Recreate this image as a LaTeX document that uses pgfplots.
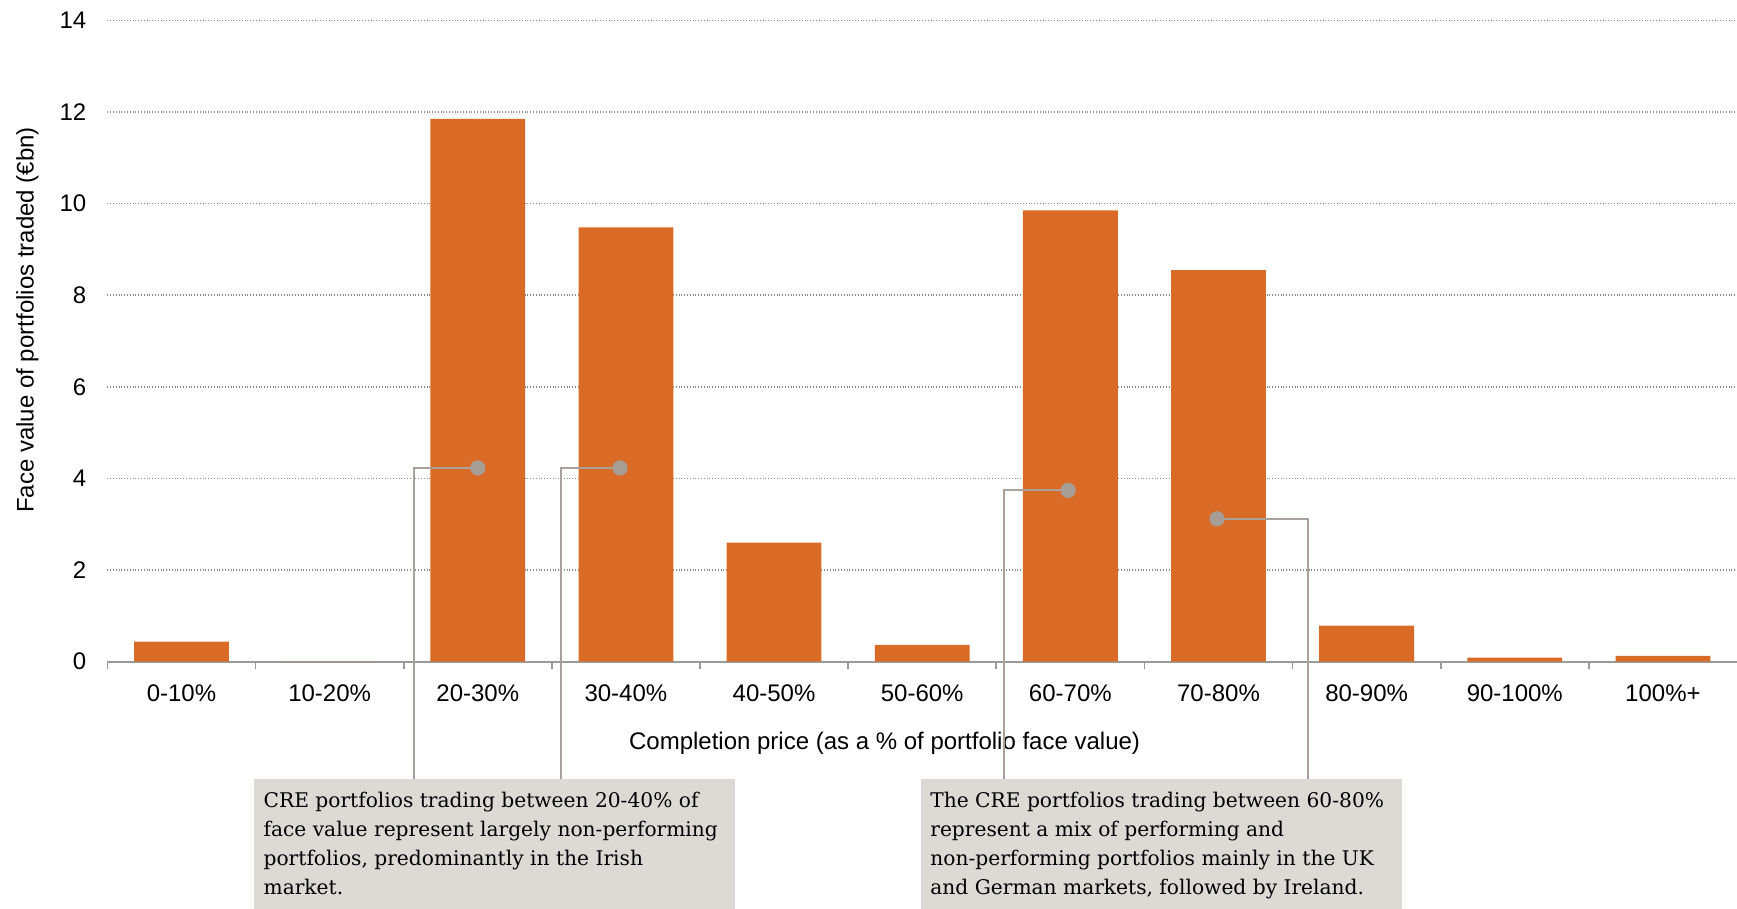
\documentclass[border=0pt]{standalone}
\usepackage{fontspec}
\setmainfont{Liberation Sans}
\newfontfamily\notefont{DejaVu Serif}
\usepackage{pgfplots}
\pgfplotsset{compat=1.18}
\definecolor{barc}{HTML}{DA6B27}
\definecolor{dotc}{HTML}{A69D96}
\definecolor{linec}{HTML}{A9A19B}
\definecolor{boxc}{HTML}{DDDAD6}
\definecolor{gridc}{HTML}{8A8A8A}
\definecolor{axisc}{HTML}{9A9A9A}
\begin{document}
\begin{tikzpicture}
\begin{axis}[
  scale only axis, width=814.8pt, height=320.7pt,
  xmin=-0.5, xmax=10.5, ymin=0, ymax=14,
  clip=false,
  axis lines*=left,
  y axis line style={draw=none},
  x axis line style={draw=axisc, line width=0.9pt},
  xtick={0,...,10},
  xticklabels={0-10\%,10-20\%,20-30\%,30-40\%,40-50\%,50-60\%,60-70\%,70-80\%,80-90\%,90-100\%,100\%+},
  minor xtick={-0.5,0.5,1.5,2.5,3.5,4.5,5.5,6.5,7.5,8.5,9.5},
  major x tick style={draw=none},
  minor x tick style={draw=axisc, line width=0.9pt},
  minor tick length=3.5pt,
  major tick length=0pt,
  tick align=outside,
  ytick={0,2,...,14},
  ytick style={draw=none},
  ymajorgrids, grid style={densely dotted, gridc, line width=0.8pt},
  tick label style={font=\fontsize{12}{14}\selectfont, text=black},
  xticklabel style={yshift=-8pt},
  yticklabel style={xshift=-7pt},
  /pgf/number format/assume math mode=true,
]
\addplot[ybar, bar width=0.64, fill=barc, draw=none] coordinates {
  (0,0.44) (1,0) (2,11.85) (3,9.48) (4,2.6) (5,0.37) (6,9.85) (7,8.55) (8,0.79) (9,0.09) (10,0.13)
};
% annotation boxes
\fill[boxc] (axis cs:0.4925,-2.56) rectangle (axis cs:3.739,-5.6);
\fill[boxc] (axis cs:4.993,-2.56) rectangle (axis cs:8.239,-5.6);
\node[anchor=north west, align=left, inner sep=0pt, xshift=4.4pt, yshift=-6.6pt,
  font=\notefont\fontsize{10.1}{14.4}\selectfont] at (axis cs:0.4925,-2.56)
  {CRE portfolios trading between 20-40\% of\\face value represent largely non-performing\\portfolios, predominantly in the Irish\\market.};
\node[anchor=north west, align=left, inner sep=0pt, xshift=4.4pt, yshift=-6.6pt,
  font=\notefont\fontsize{10.1}{14.4}\selectfont] at (axis cs:4.993,-2.56)
  {The CRE portfolios trading between 60-80\%\\represent a mix of performing and\\non-performing portfolios mainly in the UK\\and German markets, followed by Ireland.};
% axis titles
\node[font=\fontsize{12}{14}\selectfont] at (axis cs:4.746,-1.79) {Completion price (as a \% of portfolio face value)};
\node[rotate=90, font=\fontsize{12}{14}\selectfont] at (axis cs:-1.04,7.46) {Face value of portfolios traded (€bn)};
% connectors
\addplot[linec, line width=0.9pt, sharp plot, mark=none] coordinates {(2,4.23) (1.567,4.23) (1.567,-2.56)};
\addplot[linec, line width=0.9pt, sharp plot, mark=none] coordinates {(2.96,4.23) (2.56,4.23) (2.56,-2.56)};
\addplot[linec, line width=0.9pt, sharp plot, mark=none] coordinates {(5.985,3.74) (5.552,3.74) (5.552,-2.56)};
\addplot[linec, line width=0.9pt, sharp plot, mark=none] coordinates {(6.99,3.12) (7.604,3.12) (7.604,-2.56)};
\addplot[only marks, color=dotc, mark=*, mark size=3.6pt, mark options={fill=dotc, draw=dotc}] coordinates {(2,4.23) (2.96,4.23) (5.985,3.74) (6.99,3.12)};
\coordinate (bl) at (axis cs:-1.225,-5.386);
\coordinate (tr) at (axis cs:10.5,14.444);
\end{axis}
\pgfresetboundingbox
\path[use as bounding box] (bl) rectangle (tr);
\end{tikzpicture}
\end{document}
